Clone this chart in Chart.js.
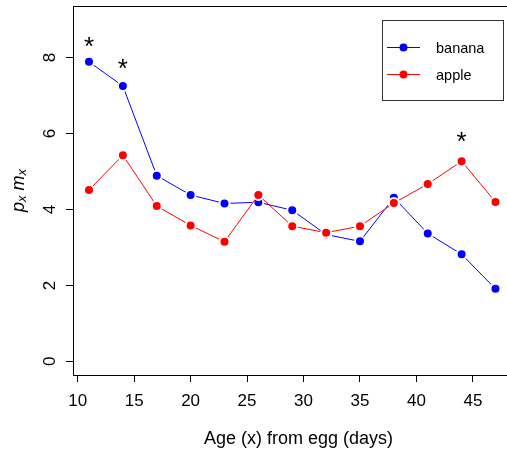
<!DOCTYPE html>
<html>
<head>
<meta charset="utf-8">
<script src="https://cdn.jsdelivr.net/npm/chart.js@4.4.0/dist/chart.umd.min.js"></script>
<style>
  html, body { margin: 0; padding: 0; overflow: hidden; background: #fff; }
  canvas { display: block; }
</style>
</head>
<body>
<canvas id="myChart" width="507" height="455" style="width:507px;height:455px"></canvas>
<script>
// values
const ages = [11, 14, 17, 20, 23, 26, 29, 32, 35, 38, 41, 44, 47];
const banana = [7.89, 7.25, 4.89, 4.38, 4.16, 4.19, 3.98, 3.34, 3.16, 4.31, 3.37, 2.82, 1.91];
const apple = [4.51, 5.43, 4.09, 3.58, 3.15, 4.38, 3.56, 3.39, 3.56, 4.17, 4.67, 5.27, 4.20];
const seriesNames = ['banana', 'apple'];
const seriesColors = ['#0000ff', '#ff0000'];
const xTitle = 'Age (x) from egg (days)';
// significance marks
const starAges = [11, 14, 44];
const starHeights = [8.41, 7.83, 5.92];

const FONT = "'Liberation Sans', Arial, Helvetica, sans-serif";
Chart.defaults.font.family = FONT;
Chart.defaults.color = '#000';

function makeDataset(name, values, color) {
    let pts = [];
    for (let i = 0; i < ages.length; i++) {
        pts.push({x: ages[i], y: values[i]});
    }
    return {
        label: name,
        data: pts,
        showLine: true,
        borderColor: color,
        backgroundColor: color,
        borderWidth: 1,
        tension: 0,
        pointRadius: 5,
        pointBorderWidth: 2,
        pointBorderColor: '#fff',
        pointBackgroundColor: color
    };
}

// R-style extras: top frame line, rotated y labels, axis titles, stars, legend
const rDecor = {
    id: 'rDecor',
    afterDraw(chart) {
        const ctx = chart.ctx;
        const area = chart.chartArea;
        const xs = chart.scales.x;
        const ys = chart.scales.y;
        ctx.save();

        // top of the frame (right side is cut off in the original)
        ctx.strokeStyle = '#000';
        ctx.lineWidth = 1;
        ctx.beginPath();
        ctx.moveTo(area.left, area.top + 0.5);
        ctx.lineTo(chart.width, area.top + 0.5);
        ctx.stroke();

        // y tick labels, parallel to the axis
        ctx.fillStyle = '#000';
        ctx.font = '17px ' + FONT;
        ctx.textAlign = 'center';
        ctx.textBaseline = 'alphabetic';
        ys.ticks.forEach(function (t) {
            ctx.save();
            ctx.translate(55, ys.getPixelForValue(t.value));
            ctx.rotate(-Math.PI / 2);
            ctx.fillText(String(t.value), 0, 0);
            ctx.restore();
        });

        // x title
        ctx.font = '18px ' + FONT;
        ctx.fillText(xTitle, 298.5, 444);

        // y title: p_x m_x
        const parts = [
            {t: 'p', size: 18, dy: 0},
            {t: 'x', size: 13, dy: 2},
            {t: ' ', size: 18, dy: 0},
            {t: 'm', size: 18, dy: 0},
            {t: 'x', size: 13, dy: 2}
        ];
        let total = 0;
        parts.forEach(function (p) {
            ctx.font = 'italic ' + p.size + 'px ' + FONT;
            p.w = ctx.measureText(p.t).width;
            total += p.w;
        });
        ctx.save();
        ctx.translate(23.5, (area.top + area.bottom) / 2);
        ctx.rotate(-Math.PI / 2);
        ctx.textAlign = 'left';
        let px = -total / 2;
        parts.forEach(function (p) {
            ctx.font = 'italic ' + p.size + 'px ' + FONT;
            ctx.fillText(p.t, px, p.dy);
            px += p.w;
        });
        ctx.restore();

        // stars
        ctx.font = '26px ' + FONT;
        ctx.textAlign = 'center';
        const m = ctx.measureText('*');
        const off = (m.actualBoundingBoxAscent - m.actualBoundingBoxDescent) / 2;
        for (let i = 0; i < starAges.length; i++) {
            ctx.fillText('*', xs.getPixelForValue(starAges[i]), ys.getPixelForValue(starHeights[i]) + off);
        }

        // legend, top right inside the plot, in seriesNames order
        const lx = 382.5, ly = 20.5, lw = 121, lh = 80;
        ctx.strokeStyle = '#333';
        ctx.strokeRect(lx, ly, lw, lh);
        ctx.font = '14.5px ' + FONT;
        ctx.textAlign = 'left';
        ctx.textBaseline = 'middle';
        seriesNames.forEach(function (name, k) {
            const yy = 47.5 + k * 27;
            ctx.strokeStyle = seriesColors[k];
            ctx.beginPath();
            ctx.moveTo(387, yy);
            ctx.lineTo(420, yy);
            ctx.stroke();
            ctx.fillStyle = seriesColors[k];
            ctx.beginPath();
            ctx.arc(403.5, yy, 4, 0, Math.PI * 2);
            ctx.fill();
            ctx.fillStyle = '#000';
            ctx.fillText(name, 436, yy + 1);
        });
        ctx.restore();
    }
};

let ctx = document.getElementById('myChart').getContext('2d');
let myChart = new Chart(ctx, {
    type: 'scatter',
    data: {
        datasets: [
            makeDataset(seriesNames[1], apple, seriesColors[1]),
            makeDataset(seriesNames[0], banana, seriesColors[0])
        ]
    },
    options: {
        responsive: false,
        maintainAspectRatio: false,
        devicePixelRatio: 1,
        animation: false,
        events: [],
        layout: { autoPadding: false, padding: { top: 6, right: 0, bottom: 0, left: 0 } },
        plugins: {
            legend: { display: false },
            tooltip: { enabled: false }
        },
        scales: {
            x: {
                type: 'linear',
                min: 9.583,
                max: 48.02,
                afterFit: function (s) { s.height = 80; },
                ticks: { stepSize: 5, includeBounds: false, font: { size: 17 }, color: '#000', padding: 9, maxRotation: 0, autoSkip: false },
                grid: { drawOnChartArea: false, tickLength: 7, color: '#000' },
                border: { display: true, color: '#000', width: 1 }
            },
            y: {
                min: -0.36,
                max: 9.36,
                afterFit: function (s) { s.width = 73; },
                ticks: { display: false, stepSize: 2, includeBounds: false },
                grid: { drawOnChartArea: false, tickLength: 7, color: '#000' },
                border: { display: true, color: '#000', width: 1 }
            }
        }
    },
    plugins: [rDecor]
});
</script>
</body>
</html>
